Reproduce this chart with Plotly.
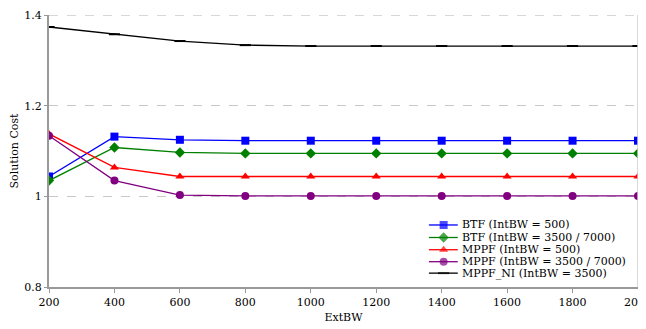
import plotly.graph_objects as go

ext_bw = [200, 400, 600, 800, 1000, 1200, 1400, 1600, 1800, 2000]
btf_500 = [1.044, 1.132, 1.125, 1.123, 1.123, 1.123, 1.123, 1.123, 1.123, 1.123]
btf_3500 = [1.035, 1.108, 1.097, 1.095, 1.095, 1.095, 1.095, 1.095, 1.095, 1.095]
mppf_500 = [1.138, 1.064, 1.044, 1.044, 1.044, 1.044, 1.044, 1.044, 1.044, 1.044]
mppf_3500 = [1.134, 1.035, 1.003, 1.001, 1.001, 1.001, 1.001, 1.001, 1.001, 1.001]
mppf_ni = [1.374, 1.358, 1.343, 1.334, 1.332, 1.332, 1.332, 1.332, 1.332, 1.332]

names = ["BTF (IntBW = 500)", "BTF (IntBW = 3500 / 7000)", "MPPF (IntBW = 500)",
         "MPPF (IntBW = 3500 / 7000)", "MPPF_NI (IntBW = 3500)"]
series = [btf_500, btf_3500, mppf_500, mppf_3500, mppf_ni]
colors = ["#0000FF", "#008000", "#FF0000", "#800080", "#000000"]
symbols = ["square", "diamond", "triangle-up", "circle", "line-ew"]

font = "DejaVu Serif"
fs = 11

fig = go.Figure()
for n, s, c, sym in zip(names, series, colors, symbols):
    fig.add_trace(go.Scatter(
        x=ext_bw, y=s, name=n, mode="lines+markers", showlegend=False,
        line=dict(color=c, width=1.3),
        marker=dict(symbol=sym, size=8, color=c,
                    line=dict(color=c, width=2 if sym == "line-ew" else 0)),
    ))

# custom compact legend on a hidden overlay axis (0..1 paper-like)
leg_x0, leg_xm, leg_x1, leg_tx = 0.645, 0.670, 0.694, 0.698
leg_rows = [0.228, 0.182, 0.137, 0.093, 0.051]
for n, c, sym, ry in zip(names, colors, symbols, leg_rows):
    fig.add_trace(go.Scatter(
        x=[leg_x0, leg_xm, leg_x1], y=[ry, ry, ry], xaxis="x2", yaxis="y2",
        mode="lines+markers", showlegend=False, hoverinfo="skip",
        line=dict(color=c, width=1.3),
        marker=dict(symbol=sym, size=[0, 8, 0], color=c,
                    line=dict(color=c, width=2 if sym == "line-ew" else 0)),
    ))
    fig.add_annotation(x=leg_tx, y=ry, xref="x2", yref="y2", text=n, showarrow=False,
                       xanchor="left", yanchor="middle",
                       font=dict(family=font, size=11, color="black"))

fig.update_layout(
    width=646, height=329,
    margin=dict(l=41, r=16, t=7, b=50, autoexpand=False),
    plot_bgcolor="white", paper_bgcolor="white",
    font=dict(family=font, size=fs, color="black"),
    showlegend=False,
    xaxis=dict(range=[200, 2000], tickvals=ext_bw, showgrid=False, zeroline=False,
               showline=True, linecolor="#999999", linewidth=2, automargin=False,
               ticks="outside", ticklen=4, tickcolor="#999999", ticklabeloverflow="allow",
               title=dict(text="ExtBW", standoff=5, font=dict(size=fs)),
               tickfont=dict(size=fs)),
    yaxis=dict(range=[0.8, 1.4005], tickvals=[0.8, 1.0, 1.2, 1.4], ticktext=["0.8", "1", "1.2", "1.4"],
               showgrid=True, gridcolor="#c8c8c8", griddash="dash", gridwidth=1, automargin=False,
               zeroline=False, showline=True, linecolor="#999999", linewidth=2,
               ticks="outside", ticklen=3, tickcolor="#999999", ticklabeloverflow="allow",
               title=dict(text="Solution Cost", standoff=8, font=dict(size=fs)),
               tickfont=dict(size=fs)),
    xaxis2=dict(range=[0, 1], overlaying="x", visible=False, fixedrange=True),
    yaxis2=dict(range=[0, 1], overlaying="y", visible=False, fixedrange=True),
)
fig.add_shape(type="line", xref="paper", yref="paper", x0=1, x1=1, y0=0, y1=1,
              line=dict(color="#cccccc", width=1.5))
fig.add_shape(type="line", xref="paper", yref="y", x0=0, x1=1, y0=1.4, y1=1.4,
              line=dict(color="#c8c8c8", width=1, dash="dash"), layer="below")
fig.write_html("out.html")
